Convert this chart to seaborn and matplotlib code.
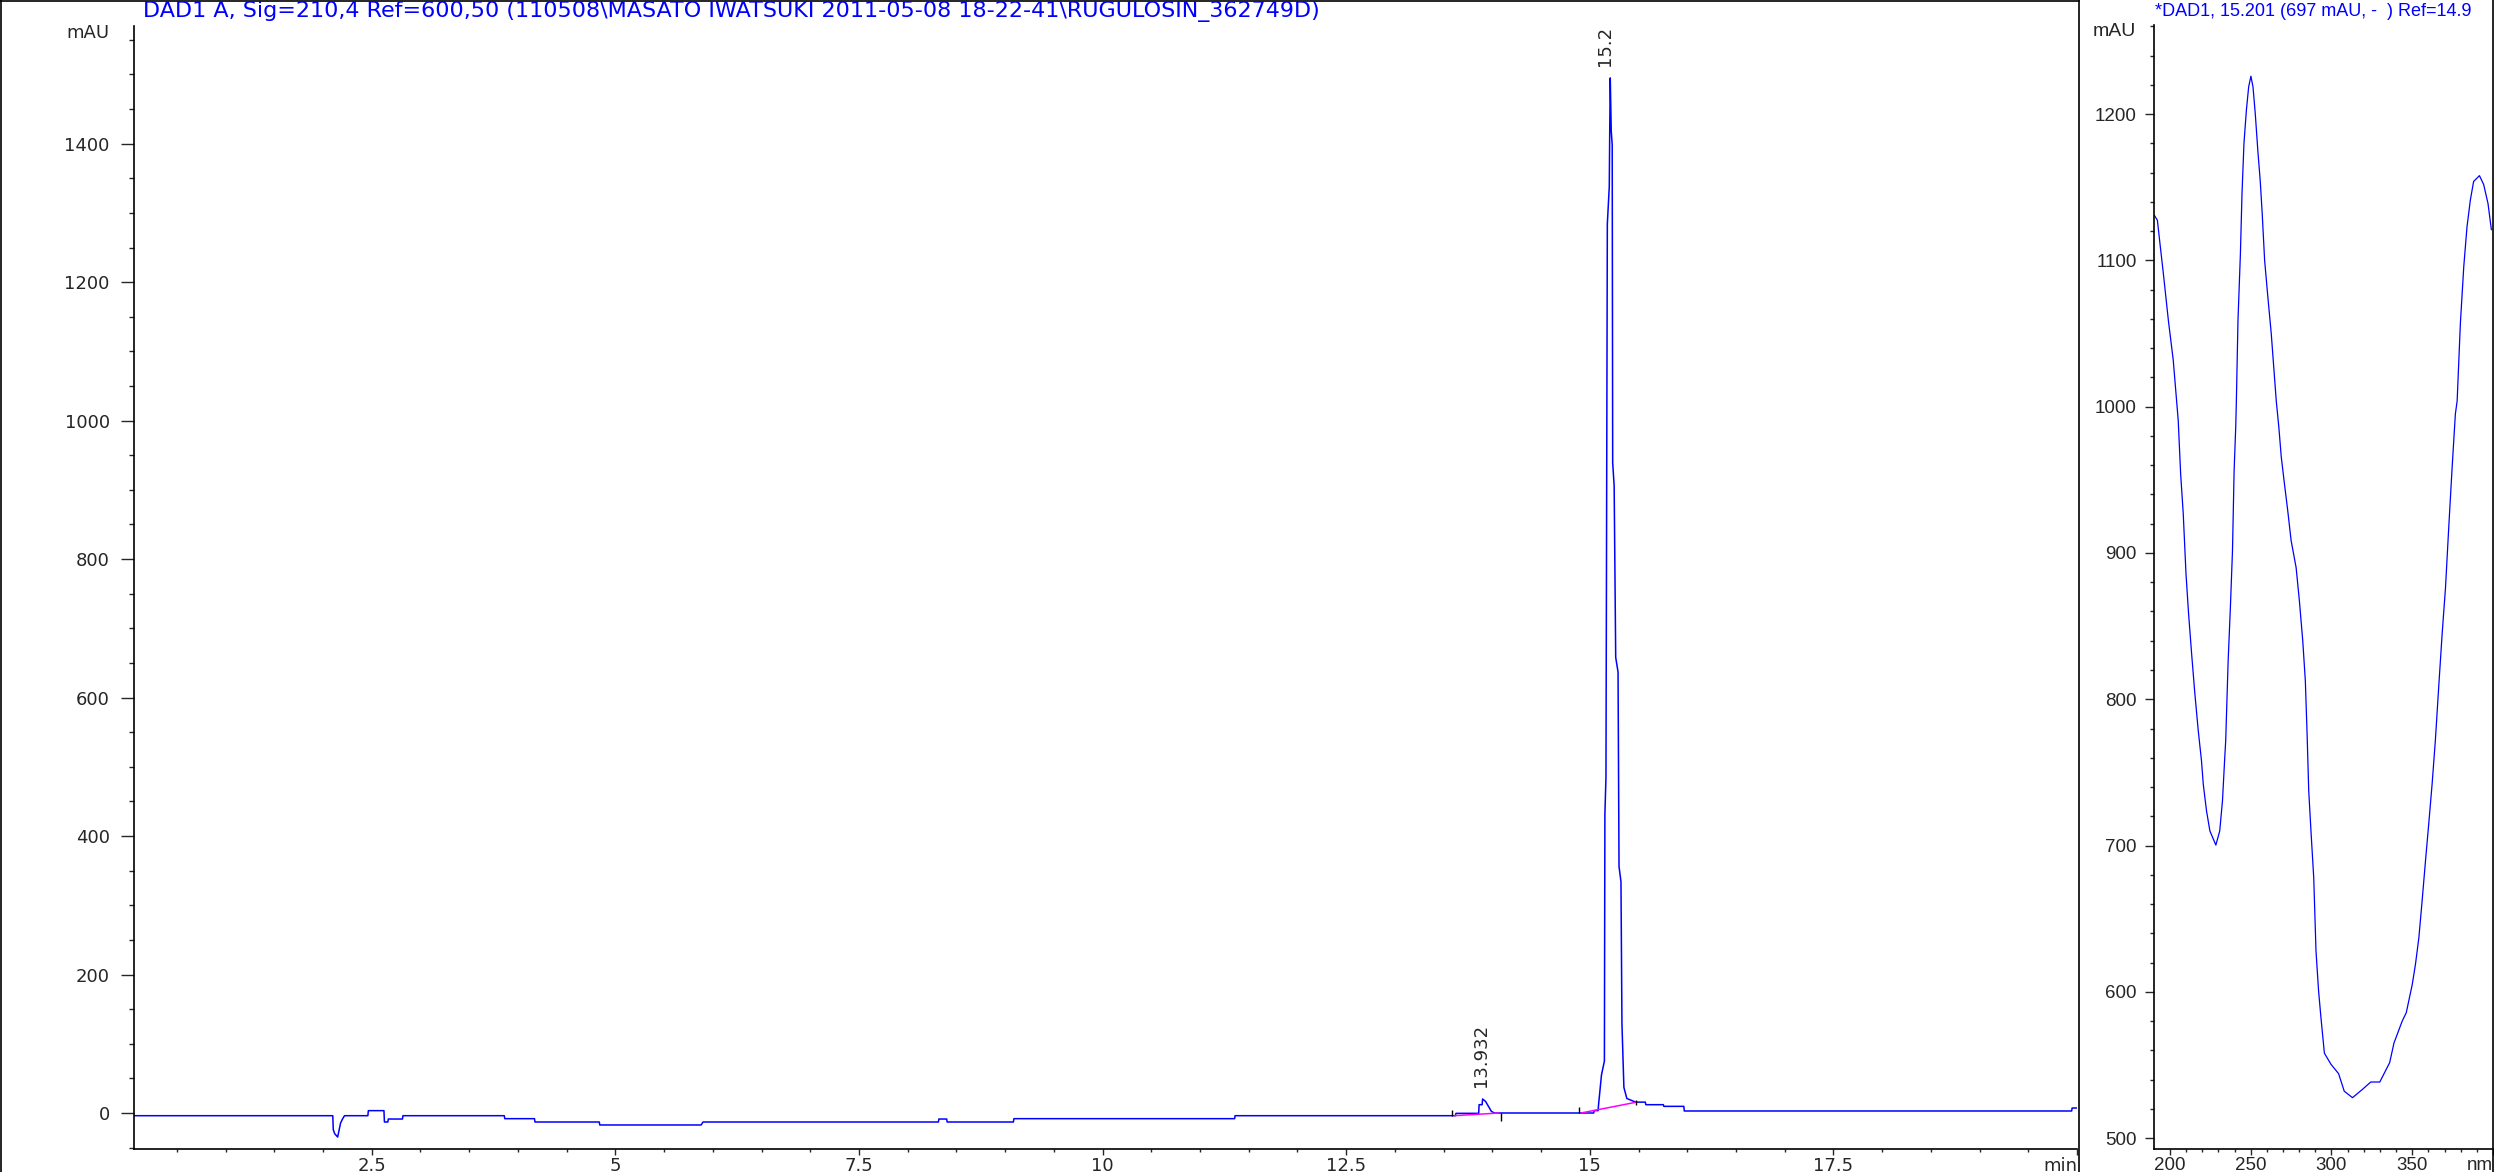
import numpy as np
import pandas as pd
import matplotlib
matplotlib.use('Agg')
import matplotlib.pyplot as plt
from matplotlib.lines import Line2D
from matplotlib.ticker import MultipleLocator, FixedLocator
import seaborn as sns

# chromatogram, DAD1 A 210 nm
rt_min = [0.06, 2.10, 2.105, 2.12, 2.15, 2.18, 2.20, 2.22, 2.46, 2.465,
          2.625, 2.63, 2.665, 2.67, 2.815, 2.82, 3.86, 3.865, 4.17, 4.175,
          4.835, 4.84, 5.88, 5.90, 8.315, 8.32, 8.40, 8.405, 9.085, 9.09,
          11.355, 11.36, 13.62, 13.627, 13.86, 13.864, 13.895, 13.90, 13.93, 13.96,
          13.99, 14.02, 15.04, 15.045, 15.085, 15.09, 15.12, 15.15, 15.155, 15.166,
          15.18, 15.20, 15.205, 15.21, 15.22, 15.23, 15.235, 15.25, 15.266, 15.29,
          15.30, 15.32, 15.33, 15.35, 15.38, 15.47, 15.57, 15.575, 15.755, 15.76,
          15.965, 15.97, 19.945, 19.95, 20.0]
signal_mau = [-3.9, -3.9, -24, -30, -34.7, -14.5, -8.7, -3.9, -3.9, 3.4,
              3.4, -13, -13, -8.7, -8.7, -3.9, -3.9, -8.2, -8.2, -13,
              -13, -17.3, -17.3, -13, -13, -8.7, -8.7, -13, -13, -8.2,
              -8.2, -3.9, -3.9, -0.5, -0.5, 12, 12, 20.2, 16.8, 9.6,
              2.4, 0, 0, 3.4, 3.4, 12, 55, 75, 431, 485,
              1284, 1338, 1424, 1495, 1419, 1398, 939, 906, 658, 637,
              356, 334, 129, 37, 21, 15.7, 15.7, 12, 12, 9.6,
              9.6, 2.9, 2.9, 7.2, 7.2]

# integration baselines and event marks
base_t0 = [13.61, 14.91]
base_v0 = [-3.9, 0.0]
base_t1 = [14.07, 15.47]
base_v1 = [0.0, 15.4]
event_t = [13.59, 14.09, 14.89, 15.47]
event_lo = [-4, -11, 0, 11]
event_hi = [4, 0, 8, 19]

peak_rt = [13.932, 15.21]
peak_top = [20.2, 1495]
peak_text = ['13.932', '15.2']

# UV spectrum at 15.201 min
wl_nm = [190.3, 192.2, 193.8, 195.9, 199.0, 202.0, 204.1, 205.1, 206.6, 208.2,
         209.9, 211.5, 213.4, 215.4, 217.5, 219.5, 220.6, 222.6, 224.7, 228.4,
         230.8, 232.5, 233.9, 234.5, 236.0, 237.4, 238.7, 239.7, 240.7, 241.1,
         242.1, 243.6, 244.6, 245.8, 247.3, 248.7, 250.1, 251.4, 252.8, 254.4,
         255.9, 257.1, 258.6, 260.6, 262.7, 265.8, 267.4, 268.9, 270.9, 272.9,
         275.0, 278.1, 280.1, 282.2, 283.8, 284.9, 285.9, 287.4, 289.0, 290.4,
         292.0, 293.5, 295.6, 299.7, 304.4, 307.9, 313.0, 319.2, 324.3, 329.9,
         336.0, 338.7, 343.8, 346.3, 350.0, 352.0, 354.1, 356.1, 358.2, 360.2,
         362.3, 364.3, 366.5, 368.5, 370.6, 372.6, 374.7, 376.7, 377.8, 379.8,
         381.9, 383.9, 386.0, 388.0, 391.6, 394.2, 396.9, 399.0]
spec_mau = [1130.9, 1127.5, 1111.5, 1091, 1059, 1032, 1004, 990.6, 954, 927,
            886, 858.6, 831, 803.8, 778.5, 758, 742, 723.8, 710, 700.3,
            710, 730.6, 760, 771.7, 826, 862.9, 901.7, 956, 986, 1004,
            1059, 1104.7, 1146, 1180, 1202.7, 1218.6, 1226, 1218.6, 1200.4, 1175,
            1154, 1132, 1100, 1075, 1050, 1004, 986, 965.6, 947, 929,
            908.5, 890, 867.5, 840, 812.7, 776, 737.5, 707.8, 678, 628,
            600.6, 582, 558, 550.4, 544, 532, 527.6, 533.3, 538.3, 538.3,
            551.5, 565, 580, 585.7, 605, 618.9, 637, 662, 689.5, 714.7,
            742, 771.7, 810.4, 844.6, 876.5, 917.6, 958.6, 995, 1004, 1057,
            1095.8, 1123, 1141.5, 1154, 1158, 1152, 1139, 1121]

chrom_ticks = [2.5, 5, 7.5, 10, 12.5, 15, 17.5, 20]
chrom_labels = ['2.5', '5', '7.5', '10', '12.5', '15', '17.5', 'min']
spec_ticks = [200, 250, 300, 350, 400]
spec_labels = ['200', '250', '300', '350', 'nm']

left_title = 'DAD1 A, Sig=210,4 Ref=600,50 (110508\\MASATO IWATSUKI 2011-05-08 18-22-41\\RUGULOSIN_362749D)'
right_title = '*DAD1, 15.201 (697 mAU, -  ) Ref=14.9'

sns.set_style('ticks')
plt.rcParams['font.family'] = ['DejaVu Sans']

W, H = 2494, 1172
BLUE = '#0000ff'
LIB = ['Liberation Sans', 'DejaVu Sans']
fig = plt.figure(figsize=(W / 100, H / 100), dpi=100)
fig.patch.set_facecolor('white')


def px_box(x0, y0, x1, y1):
    return [x0 / W, 1 - y1 / H, (x1 - x0) / W, (y1 - y0) / H]


ax1 = fig.add_axes(px_box(134, 26, 2077, 1149))
ax2 = fig.add_axes(px_box(2154, 25, 2493, 1149))

chrom = pd.DataFrame({'time': rt_min, 'mAU': signal_mau})
sns.lineplot(data=chrom, x='time', y='mAU', ax=ax1, color=BLUE, lw=1.1,
             estimator=None, sort=False)
for t0, v0, t1, v1 in zip(base_t0, base_v0, base_t1, base_v1):
    ax1.plot([t0, t1], [v0, v1], color='#ff00ff', lw=1.1, zorder=3)
ax1.vlines(event_t, event_lo, event_hi, color='black', lw=1.0, zorder=3)
for t, h, s in zip(peak_rt, peak_top, peak_text):
    ax1.annotate(s, xy=(t, h), xytext=(-5, 12), textcoords='offset pixels',
                 rotation=90, ha='center', va='bottom', fontsize=13)

ax1.set_xlim(0.06, 20)
ax1.set_ylim(-52, 1570)
ax1.xaxis.set_major_locator(FixedLocator(chrom_ticks))
ax1.set_xticklabels(chrom_labels)
ax1.xaxis.set_minor_locator(MultipleLocator(0.5))
ax1.yaxis.set_major_locator(MultipleLocator(200))
ax1.yaxis.set_minor_locator(MultipleLocator(50))
ax1.set_xlabel('')
ax1.set_ylabel('')
ax1.tick_params(axis='y', which='major', length=9.4, width=1, pad=8, labelsize=13)
ax1.tick_params(axis='y', which='minor', length=3.6, width=1)
ax1.tick_params(axis='x', which='major', length=4.3, width=1, pad=1.5, labelsize=13)
ax1.tick_params(axis='x', which='minor', length=2.2, width=1)
ax1.get_xticklabels()[-1].set_ha('right')

spec = pd.DataFrame({'wavelength': wl_nm, 'mAU': spec_mau})
sns.lineplot(data=spec, x='wavelength', y='mAU', ax=ax2, color=BLUE, lw=0.9,
             estimator=None, sort=False)
ax2.set_xlim(190.1, 400)
ax2.set_ylim(492.5, 1261)
ax2.xaxis.set_major_locator(FixedLocator(spec_ticks))
ax2.set_xticklabels(spec_labels)
ax2.xaxis.set_minor_locator(MultipleLocator(10))
ax2.yaxis.set_major_locator(MultipleLocator(100))
ax2.yaxis.set_minor_locator(MultipleLocator(20))
ax2.set_xlabel('')
ax2.set_ylabel('')
ax2.tick_params(axis='y', which='major', length=6.5, width=1, pad=6, labelsize=13.5)
ax2.tick_params(axis='y', which='minor', length=2.9, width=1)
ax2.tick_params(axis='x', which='major', length=4.3, width=1, pad=1.5, labelsize=13.5)
ax2.tick_params(axis='x', which='minor', length=2.2, width=1)
for lab in ax2.get_xticklabels() + ax2.get_yticklabels():
    lab.set_family(LIB)
ax2.get_xticklabels()[-1].set_ha('right')

for ax in [ax1, ax2]:
    sns.despine(ax=ax)
    for sp in ['left', 'bottom']:
        ax.spines[sp].set_color('black')
        ax.spines[sp].set_linewidth(1.2)
    ax.set_facecolor('white')

fig.text(143 / W, 1 - 12 / H, left_title, color=BLUE, fontsize=16,
         ha='left', va='center')
fig.text(2155 / W, 1 - 12 / H, right_title, color=BLUE, fontsize=13,
         ha='left', va='center', family=LIB)
fig.text(109 / W, 1 - 33 / H, 'mAU', fontsize=13, ha='right', va='center')
fig.text(2136 / W, 1 - 32 / H, 'mAU', fontsize=14, ha='right', va='center',
         family=LIB)

# panel frame
frame = dict(color='black', lw=1.2, transform=fig.transFigure)
fig.add_artist(Line2D([0, 2079 / W], [1 - 1 / H, 1 - 1 / H], **frame))
fig.add_artist(Line2D([1 / W, 1 / W], [0, 1], **frame))
fig.add_artist(Line2D([2079 / W, 2079 / W], [0, 1], **frame))
fig.add_artist(Line2D([2493 / W, 2493 / W], [0, 1], **frame))

fig.savefig('out.png', dpi=100)
